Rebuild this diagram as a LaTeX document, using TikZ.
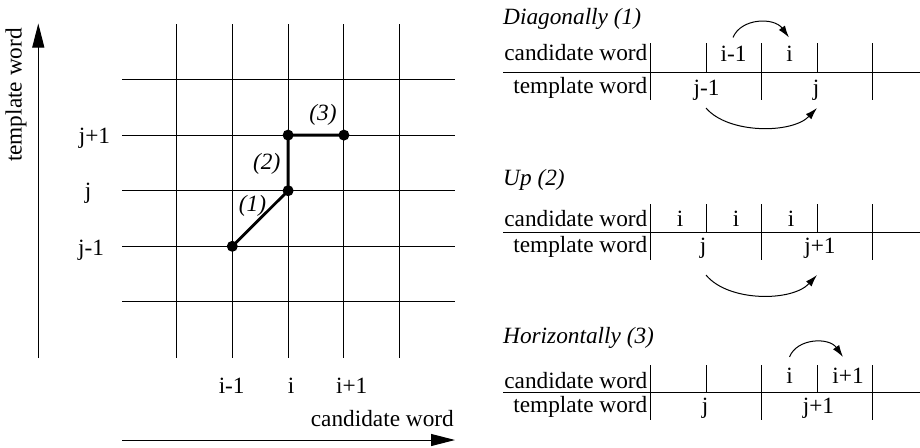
\documentclass[tikz,border=0pt]{standalone}
\usepackage{fontspec}
\setmainfont{Liberation Serif}
\usetikzlibrary{arrows.meta}
\begin{document}
\begin{tikzpicture}[x=1pt,y=-1pt,
  txt/.style={inner sep=0pt, font=\fontsize{23.3}{28}\selectfont},
  itxt/.style={inner sep=0pt, font=\fontsize{23.3}{28}\selectfont\itshape},
  gline/.style={line width=1pt},
  route/.style={line width=2.8pt},
  dotnode/.style={circle, fill=black, inner sep=0pt, minimum size=11pt},
  axisarrow/.style={line width=1pt, -{Triangle[length=24pt,width=12pt]}},
  jump/.style={line width=1pt, -{Latex[length=12pt,width=7.5pt]}}
]
\useasboundingbox (0,0) rectangle (920,447);

% ---------- left grid ----------
\foreach \k in {0,...,4} {
  \draw[gline] ({176.5+55.8*\k},24) -- ({176.5+55.8*\k},358);
  \draw[gline] (122,{79.5+55.6*\k}) -- (455,{79.5+55.6*\k});
}
% axes
\coordinate (yaxB) at (38.3,358);
\coordinate (yaxT) at (38.3,23.5);
\coordinate (xaxL) at (122,440);
\coordinate (xaxR) at (455,440);
\draw[axisarrow] (yaxB) -- (yaxT);
\draw[axisarrow] (xaxL) -- (xaxR);
\node[txt, rotate=90, anchor=base] (ylab) at (21.6,95) {template word};
\node[txt, anchor=base east] (xlab) at (454,426.7) {candidate word};

% row / column labels
\node[txt, anchor=base] (ljp) at (94.5,143.5) {j+1};
\node[txt, anchor=base] (ljo) at (88,198.8) {j};
\node[txt, anchor=base] (ljm) at (91,255) {j-1};
\node[txt, anchor=base] (lim) at (231.7,393) {i-1};
\node[txt, anchor=base] (lio) at (291,393) {i};
\node[txt, anchor=base] (lip) at (351.7,393) {i+1};

% path
\node[dotnode] (p1) at (232.3,246.3) {};
\node[dotnode] (p2) at (288.1,190.7) {};
\node[dotnode] (p3) at (288.1,135.1) {};
\node[dotnode] (p4) at (343.9,135.1) {};
\draw[route] (p1.center) -- (p2.center) -- (p3.center) -- (p4.center);
\node[itxt] (s1) at (252.5,205.5) {(1)};
\node[itxt] (s2) at (266.7,163.5) {(2)};
\node[itxt] (s3) at (323,115) {(3)};

% ---------- Diagonally (1) ----------
\node[itxt, anchor=base west] (dT) at (503,24.5) {Diagonally (1)};
\node[txt, anchor=base east] (dC) at (647.5,60) {candidate word};
\node[txt, anchor=base east] (dW) at (647.5,93.5) {template word};
\draw[gline] (503,72.5) -- (920,72.5);
\foreach \x in {650,761.5,872.5} \draw[gline] (\x,43) -- (\x,100);
\foreach \x in {706,817} \draw[gline] (\x,43) -- (\x,72.5);
\node[txt, anchor=base] (dc1) at (733.5,61.5) {i-1};
\node[txt, anchor=base] (dc2) at (789.5,61.5) {i};
\node[txt, anchor=base] (dw1) at (706.5,95) {j-1};
\node[txt, anchor=base] (dw2) at (816,95) {j};
\coordinate (da1) at (733,37.5);
\coordinate (da2) at (789,37.5);
\draw[jump] (da1) .. controls (741,18) and (774,17) .. (da2);
\coordinate (db1) at (706,108);
\coordinate (db2) at (817,108);
\draw[jump] (db1) .. controls (728,134) and (792,134) .. (db2);

% ---------- Up (2) ----------
\node[itxt, anchor=base west] (uT) at (503,185) {Up (2)};
\node[txt, anchor=base east] (uC) at (647.5,226.5) {candidate word};
\node[txt, anchor=base east] (uW) at (647.5,252.5) {template word};
\draw[gline] (503,232.5) -- (920,232.5);
\foreach \x in {650,761.5,872.5} \draw[gline] (\x,204) -- (\x,260);
\foreach \x in {706,817} \draw[gline] (\x,204) -- (\x,232.5);
\node[txt, anchor=base] (uc1) at (680,226) {i};
\node[txt, anchor=base] (uc2) at (736,226) {i};
\node[txt, anchor=base] (uc3) at (791,226) {i};
\node[txt, anchor=base] (uw1) at (703,253.5) {j};
\node[txt, anchor=base] (uw2) at (820,253.5) {j+1};
\coordinate (ub1) at (706,275);
\coordinate (ub2) at (817,275);
\draw[jump] (ub1) .. controls (728,302) and (792,302) .. (ub2);

% ---------- Horizontally (3) ----------
\node[itxt, anchor=base west] (hT) at (503,343) {Horizontally (3)};
\node[txt, anchor=base east] (hC) at (647.5,388) {candidate word};
\node[txt, anchor=base east] (hW) at (647.5,412.5) {template word};
\draw[gline] (503,392.5) -- (920,392.5);
\foreach \x in {650,761.5,872.5} \draw[gline] (\x,365) -- (\x,420);
\foreach \x in {706,817} \draw[gline] (\x,365) -- (\x,392.5);
\node[txt, anchor=base] (hc1) at (789.5,383.5) {i};
\node[txt, anchor=base] (hc2) at (848,383.5) {i+1};
\node[txt, anchor=base] (hw1) at (705,413) {j};
\node[txt, anchor=base] (hw2) at (818.5,413) {j+1};
\coordinate (ha1) at (789.5,357);
\coordinate (ha2) at (843,357);
\draw[jump] (ha1) .. controls (797,338) and (829,337) .. (ha2);
\end{tikzpicture}
\end{document}
